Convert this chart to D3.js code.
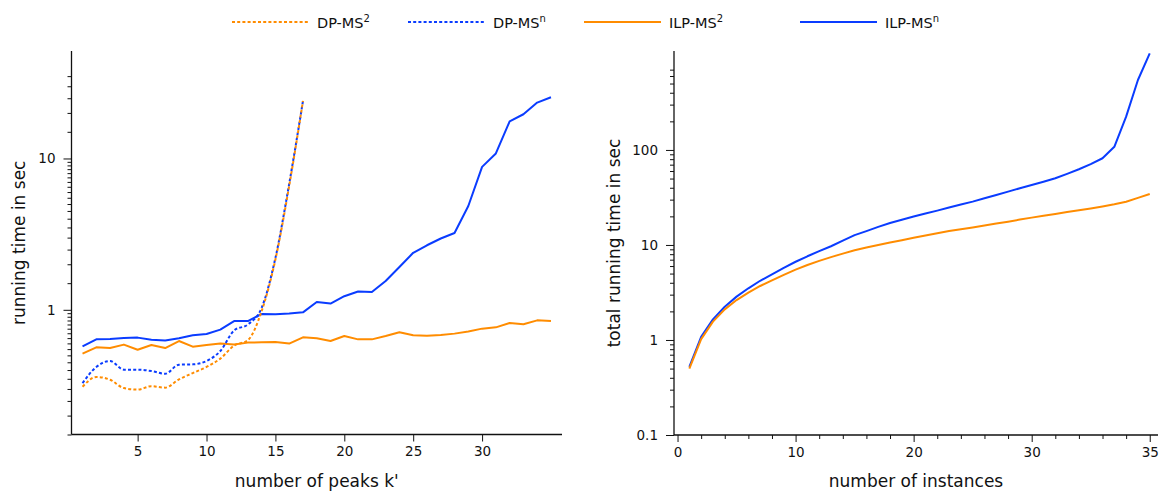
<!DOCTYPE html>
<html>
<head>
<meta charset="utf-8">
<script src="https://cdn.jsdelivr.net/npm/d3@7"></script>
<style>
  body { margin: 0; background: #fff; }
  svg { display: block; }
  text { font-family: "DejaVu Sans", sans-serif; fill: #111; }
</style>
</head>
<body>
<svg id="chart" width="1159" height="491"></svg>
<script>
// left panel: running time per number of peaks k'
const peaks = [1, 2, 3, 4, 5, 6, 7, 8, 9, 10, 11, 12, 13, 14, 15, 16, 17, 18, 19, 20,
  21, 22, 23, 24, 25, 26, 27, 28, 29, 30, 31, 32, 33, 34, 35];
const dpMs2 = [0.31, 0.36, 0.345, 0.304, 0.297, 0.313, 0.306, 0.347, 0.382, 0.419, 0.476, 0.58,
  0.63, 0.98, 2.15, 6.6, 24];
const dpMsn = [0.328, 0.419, 0.459, 0.402, 0.402, 0.394, 0.378, 0.434, 0.436, 0.459, 0.534, 0.73,
  0.8, 1.03, 2.2, 6.8, 24];
const ilpMs2 = [0.513, 0.565, 0.559, 0.589, 0.545, 0.585, 0.559, 0.622, 0.571, 0.585, 0.6, 0.589,
  0.607, 0.61, 0.612, 0.598, 0.658, 0.648, 0.622, 0.671, 0.638, 0.638, 0.671, 0.71, 0.678, 0.675,
  0.681, 0.696, 0.718, 0.751, 0.766, 0.818, 0.802, 0.852, 0.843];
const ilpMsn = [0.574, 0.638, 0.641, 0.651, 0.655, 0.635, 0.628, 0.648, 0.678, 0.692, 0.74, 0.843,
  0.843, 0.938, 0.934, 0.944, 0.962, 1.125, 1.1, 1.23, 1.32, 1.31, 1.55, 1.92, 2.38, 2.67, 2.96,
  3.22, 4.85, 8.8, 10.8, 17.6, 19.6, 23.4, 25.4];

// right panel: total running time per number of instances
const instances = [1, 2, 3, 4, 5, 6, 7, 8, 9, 10, 11, 12, 13, 14, 15, 16, 17, 18, 19, 20,
  21, 22, 23, 24, 25, 26, 27, 28, 29, 30, 31, 32, 33, 34, 35, 36, 37, 38, 39, 40];
const totalIlpMs2 = [0.5, 1.02, 1.56, 2.1, 2.63, 3.15, 3.7, 4.25, 4.85, 5.5, 6.15, 6.8, 7.45, 8.1,
  8.8, 9.4, 10.0, 10.6, 11.2, 11.9, 12.6, 13.3, 14.0, 14.6, 15.3, 16.0, 16.8, 17.6, 18.5, 19.4,
  20.3, 21.2, 22.2, 23.2, 24.2, 25.4, 26.8, 28.5, 31.3, 34.4];
const totalIlpMsn = [0.52, 1.08, 1.65, 2.24, 2.86, 3.5, 4.2, 4.9, 5.75, 6.66, 7.6, 8.6, 9.7, 11.1,
  12.7, 14.0, 15.5, 17.0, 18.4, 19.9, 21.4, 23.0, 24.8, 26.6, 28.6, 31.0, 33.6, 36.4, 39.5, 42.8,
  46.3, 50.4, 56.0, 62.6, 71.0, 81.8, 108, 224, 545, 1040];

const leftXTicks = [5, 10, 15, 20, 25, 30];
const leftYTicks = [1, 10];
const rightXTicks = [0, 10, 20, 30, 40];
const rightXTickLabels = ["0", "10", "20", "30", "35"];
const rightYTicks = [0.1, 1, 10, 100];

const seriesNames = ["DP-MS", "DP-MS", "ILP-MS", "ILP-MS"];
const seriesSups = ["2", "n", "2", "n"];

const orange = "#ff8c00";
const blue = "#0a3cff";
const dotted = "3,2.2";

const svg = d3.select("#chart");

// ---------- scales ----------
const xL = d3.scaleLinear().domain([0.2, 35.8]).range([71.5, 562]);
const yL = d3.scaleLog().domain([0.15, 51.3]).range([434.5, 51]);
const xR = d3.scaleLinear().domain([-0.3, 40.7]).range([674, 1158]);
const yR = d3.scaleLog().domain([0.1, 1100]).range([435, 51]);

// minor log ticks
const minorLeft = [];
[0.1, 1, 10].forEach(d => {
  for (let m = 1.5; m < 10; m += 0.5) {
    const v = +(m * d).toPrecision(6);
    if (v >= 0.15 - 1e-9 && v <= 35 + 1e-9) minorLeft.push(v);
  }
});
const minorRight = [];
[0.1, 1, 10, 100].forEach(d => {
  for (let m = 2; m < 10; m++) {
    const v = +(m * d).toPrecision(6);
    if (v <= 700 + 1e-9) minorRight.push(v);
  }
});
const minorRightX = [2, 4, 6, 8, 12, 14, 16, 18, 22, 24, 26, 28, 32, 34, 36, 38];

function styleAxis(g) {
  g.select(".domain").remove();
  g.selectAll(".tick line").attr("stroke", "#111").attr("stroke-width", 1);
  g.selectAll(".tick text").attr("font-size", 13.5).attr("fill", "#111")
    .attr("font-family", "DejaVu Sans");
}

function panel(x, y, opts) {
  const [x0, x1] = x.range();
  const [y0, y1] = y.range();
  // spines
  svg.append("line").attr("x1", x0).attr("x2", x0).attr("y1", y0).attr("y2", y1)
    .attr("stroke", "#111").attr("stroke-width", 1.3);
  svg.append("line").attr("x1", x0).attr("x2", x1).attr("y1", y0).attr("y2", y0)
    .attr("stroke", "#111").attr("stroke-width", 1.3);

  svg.append("g").attr("transform", `translate(${x0},0)`)
    .call(d3.axisLeft(y).tickValues(opts.yMinor).tickSize(4).tickFormat(""))
    .call(styleAxis);
  svg.append("g").attr("transform", `translate(${x0},0)`)
    .call(d3.axisLeft(y).tickValues(opts.yTicks).tickSize(8).tickPadding(8)
      .tickFormat(d => String(d)))
    .call(styleAxis);

  if (opts.xMinor) {
    svg.append("g").attr("transform", `translate(0,${y0})`)
      .call(d3.axisBottom(x).tickValues(opts.xMinor).tickSize(4).tickFormat(""))
      .call(styleAxis);
  }
  svg.append("g").attr("transform", `translate(0,${y0})`)
    .call(d3.axisBottom(x).tickValues(opts.xTicks).tickSize(7).tickPadding(5)
      .tickFormat(opts.xFormat))
    .call(styleAxis);

  svg.append("text")
    .attr("x", (x0 + x1) / 2).attr("y", 487)
    .attr("text-anchor", "middle").attr("font-size", 17)
    .text(opts.xLabel);
  svg.append("text")
    .attr("transform", `translate(${opts.yLabelX},${(y0 + y1) / 2}) rotate(-90)`)
    .attr("text-anchor", "middle").attr("font-size", 17)
    .text(opts.yLabel);
}

panel(xL, yL, {
  yTicks: leftYTicks, yMinor: minorLeft, xTicks: leftXTicks,
  xFormat: d => String(d),
  xLabel: "number of peaks k'", yLabel: "running time in sec", yLabelX: 25
});
panel(xR, yR, {
  yTicks: rightYTicks, yMinor: minorRight, xTicks: rightXTicks, xMinor: minorRightX,
  xFormat: (d, i) => rightXTickLabels[i],
  xLabel: "number of instances", yLabel: "total running time in sec", yLabelX: 620
});

// ---------- lines ----------
function drawLine(x, y, xs, ys, color, dash, curve) {
  const line = d3.line()
    .x((d, i) => x(xs[i]))
    .y(d => y(d))
    .curve(curve || d3.curveLinear);
  svg.append("path")
    .datum(ys)
    .attr("d", line)
    .attr("fill", "none")
    .attr("stroke", color)
    .attr("stroke-width", 2)
    .attr("stroke-dasharray", dash)
    .attr("stroke-linejoin", "round");
}

drawLine(xL, yL, peaks, ilpMs2, orange, null);
drawLine(xL, yL, peaks, ilpMsn, blue, null);
drawLine(xL, yL, peaks, dpMsn, blue, dotted, d3.curveMonotoneX);
drawLine(xL, yL, peaks, dpMs2, orange, dotted, d3.curveMonotoneX);

drawLine(xR, yR, instances, totalIlpMsn, blue, null);
drawLine(xR, yR, instances, totalIlpMs2, orange, null);

// ---------- legend ----------
const legendColors = [orange, blue, orange, blue];
const legendDash = [dotted, dotted, null, null];
const legendX = [232, 408, 584, 800];
const legend = svg.append("g").attr("transform", "translate(0,22)");
seriesNames.forEach((name, i) => {
  const g = legend.append("g").attr("transform", `translate(${legendX[i]},0)`);
  g.append("line").attr("x1", 0).attr("x2", 77).attr("y1", 0).attr("y2", 0)
    .attr("stroke", legendColors[i]).attr("stroke-width", 2)
    .attr("stroke-dasharray", legendDash[i]);
  const t = g.append("text").attr("x", 85).attr("y", 6).attr("font-size", 14.5).text(name);
  t.append("tspan").attr("dy", -6.5).attr("font-size", 10).text(seriesSups[i]);
});
</script>
</body>
</html>
